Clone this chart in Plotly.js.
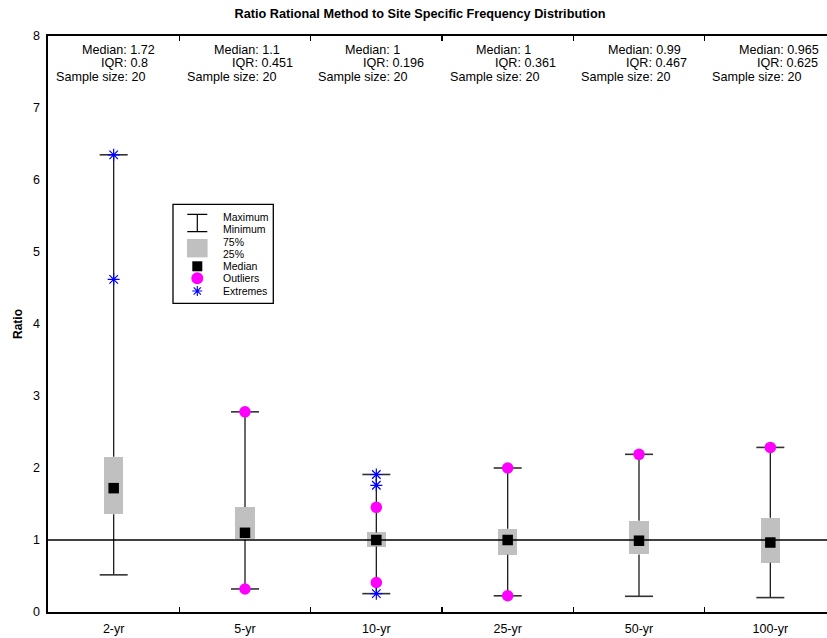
<!DOCTYPE html>
<html>
<head>
<meta charset="utf-8">
<script src="https://cdn.plot.ly/plotly-3.0.1.min.js"></script>
<style>
html, body { margin: 0; padding: 0; overflow: hidden; background: #fff; }
#chart { width: 840px; height: 638px; }
</style>
</head>
<body>
<div id="chart"></div>
<script>
// ---- data ----
const categories = ['2-yr', '5-yr', '10-yr', '25-yr', '50-yr', '100-yr'];
const minimum  = [0.516, 0.32, 0.255, 0.225, 0.218, 0.20];
const q1       = [1.356, 1.008, 0.909, 0.796, 0.80, 0.685];
const median   = [1.72, 1.10, 1.0, 1.0, 0.99, 0.965];
const q3       = [2.156, 1.459, 1.105, 1.157, 1.267, 1.31];
const maximum  = [6.35, 2.78, 1.91, 2.0, 2.19, 2.286];

const outlierCat = ['5-yr', '5-yr', '10-yr', '10-yr', '25-yr', '25-yr', '50-yr', '100-yr'];
const outlierVal = [2.78, 0.32, 1.454, 0.41, 2.0, 0.225, 2.19, 2.286];
const extremeCat = ['2-yr', '2-yr', '10-yr', '10-yr', '10-yr'];
const extremeVal = [6.35, 4.62, 1.91, 1.76, 0.255];

const medianLabels = ['1.72', '1.1', '1', '1', '0.99', '0.965'];
const iqrLabels    = ['0.8', '0.451', '0.196', '0.361', '0.467', '0.625'];
const sampleSizes  = [20, 20, 20, 20, 20, 20];

const referenceRatio = 1;

// ---- traces ----
const FONT = '"Liberation Sans", Arial, Helvetica, sans-serif';

const boxTrace = {
  type: 'bar', x: categories, base: q1,
  y: q3.map((v, i) => v - q1[i]),
  width: 0.148,
  marker: { color: '#c0c0c0', line: { width: 0 } },
  hoverinfo: 'skip', showlegend: false
};

const wx = [], wy = [];
categories.forEach((c, i) => {
  wx.push(c, c, null, c, c, null);
  wy.push(minimum[i], q1[i], null, q3[i], maximum[i], null);
});
const whiskerTrace = {
  type: 'scatter', mode: 'lines', x: wx, y: wy,
  line: { color: '#1a1a1a', width: 1.3 }, connectgaps: false,
  hoverinfo: 'skip', showlegend: false
};

const capTrace = {
  type: 'scatter', mode: 'markers',
  x: categories.concat(categories), y: minimum.concat(maximum),
  marker: { symbol: 'line-ew', size: 20, color: '#333', line: { color: '#333', width: 1.6 } },
  hoverinfo: 'skip', showlegend: false
};

const outlierTrace = {
  type: 'scatter', mode: 'markers', x: outlierCat, y: outlierVal,
  marker: { symbol: 'circle', size: 11.5, color: '#ff00ff', line: { width: 0 } },
  showlegend: false
};

const extremeTrace = {
  type: 'scatter', mode: 'markers', x: extremeCat, y: extremeVal,
  marker: { symbol: 'asterisk-open', size: 10, color: '#0000ff', line: { color: '#0000ff', width: 1.2 } },
  showlegend: false
};

const medianTrace = {
  type: 'scatter', mode: 'markers', x: categories, y: median,
  marker: { symbol: 'square', size: 10.5, color: '#000' },
  showlegend: false
};

// ---- annotations ----
const annotations = [];
const annFont = { family: FONT, size: 12.6, color: '#000' };
categories.forEach((c, i) => {
  annotations.push({ xref: 'x', yref: 'y', x: i - 0.253, y: 7.806, xanchor: 'left', yanchor: 'middle',
    text: 'Median: ' + medianLabels[i], showarrow: false, font: annFont });
  annotations.push({ xref: 'x', yref: 'y', x: i - 0.114, y: 7.621, xanchor: 'left', yanchor: 'middle',
    text: 'IQR: ' + iqrLabels[i], showarrow: false, font: annFont });
  annotations.push({ xref: 'x', yref: 'y', x: i - 0.456, y: 7.435, xanchor: 'left', yanchor: 'middle',
    text: 'Sample size: ' + sampleSizes[i], showarrow: false, font: annFont });
});

// ---- manual legend (decoration) ----
const px = v => (v - 48) / 788;
const py = v => (612 - v) / 576;
const legFont = { family: FONT, size: 10.5, color: '#000' };
const legText = [['Maximum', 217.3], ['Minimum', 228.7], ['75%', 242.3], ['25%', 254.3],
                 ['Median', 266.3], ['Outliers', 278.3], ['Extremes', 291]];
legText.forEach(([t, yy]) => annotations.push({
  xref: 'paper', yref: 'paper', x: px(221), y: py(yy), xanchor: 'left', yanchor: 'middle',
  text: t, showarrow: false, font: legFont
}));

const kx = px(197.3);
const shapes = [
  { type: 'line', xref: 'paper', yref: 'y', x0: 0, x1: 1, y0: referenceRatio, y1: referenceRatio,
    line: { color: '#000', width: 1.6 }, layer: 'above' },
  { type: 'rect', xref: 'paper', yref: 'paper', x0: px(173), x1: px(273.3), y0: py(303.3), y1: py(204.3),
    fillcolor: '#fff', line: { color: '#000', width: 1.3 } },
  { type: 'path', xref: 'paper', yref: 'paper', xsizemode: 'pixel', ysizemode: 'pixel',
    xanchor: kx, yanchor: py(223), path: 'M-10,8.7 H10 M0,8.7 V-8.7 M-10,-8.7 H10',
    line: { color: '#000', width: 1.2 } },
  { type: 'rect', xref: 'paper', yref: 'paper', xsizemode: 'pixel', ysizemode: 'pixel',
    xanchor: kx, yanchor: py(248.2), x0: -10.3, x1: 10.3, y0: -9.2, y1: 9.2,
    fillcolor: '#c0c0c0', line: { width: 0 } },
  { type: 'rect', xref: 'paper', yref: 'paper', xsizemode: 'pixel', ysizemode: 'pixel',
    xanchor: kx, yanchor: py(266.3), x0: -5, x1: 5, y0: -5, y1: 5,
    fillcolor: '#000', line: { width: 0 } },
  { type: 'circle', xref: 'paper', yref: 'paper', xsizemode: 'pixel', ysizemode: 'pixel',
    xanchor: kx, yanchor: py(278.3), x0: -6, x1: 6, y0: -6, y1: 6,
    fillcolor: '#ff00ff', line: { width: 0 } },
  { type: 'path', xref: 'paper', yref: 'paper', xsizemode: 'pixel', ysizemode: 'pixel',
    xanchor: kx, yanchor: py(291),
    path: 'M-5,0 H5 M0,-5 V5 M-3.6,-3.6 L3.6,3.6 M-3.6,3.6 L3.6,-3.6',
    line: { color: '#0000ff', width: 1.1 } }
];

const layout = {
  width: 840, height: 638,
  margin: { l: 48, r: 4, t: 36, b: 26 },
  paper_bgcolor: '#fff', plot_bgcolor: '#fff',
  font: { family: FONT, size: 12.5, color: '#000' },
  title: { text: '<b>Ratio Rational Method to Site Specific Frequency Distribution</b>',
           font: { family: FONT, size: 12.7, color: '#000' },
           x: 0.5, xref: 'container', y: 0.978, yref: 'container', yanchor: 'middle' },
  showlegend: false,
  bargap: 0,
  xaxis: {
    type: 'category', categoryorder: 'array', categoryarray: categories,
    range: [-0.5, 5.5], tickson: 'boundaries', ticks: 'inside', ticklen: 5,
    tickcolor: '#000', tickwidth: 1.3,
    showline: true, linecolor: '#000', linewidth: 1.6, mirror: 'ticks',
    showgrid: false, zeroline: false, ticklabelstandoff: 4,
    tickfont: { family: FONT, size: 12.5, color: '#000' }, fixedrange: true
  },
  yaxis: {
    range: [0, 8], dtick: 1, tick0: 0, ticks: '',
    showline: true, linecolor: '#000', linewidth: 1.6, mirror: true,
    showgrid: false, zeroline: false, ticklabelstandoff: 4,
    tickfont: { family: FONT, size: 12.5, color: '#000' },
    title: { text: '<b>Ratio</b>', font: { family: FONT, size: 12, color: '#000' }, standoff: 8 },
    fixedrange: true
  },
  annotations: annotations,
  shapes: shapes
};

Plotly.newPlot('chart', [boxTrace, whiskerTrace, capTrace, outlierTrace, extremeTrace, medianTrace],
  layout, { displayModeBar: false, staticPlot: true });
</script>
</body>
</html>
